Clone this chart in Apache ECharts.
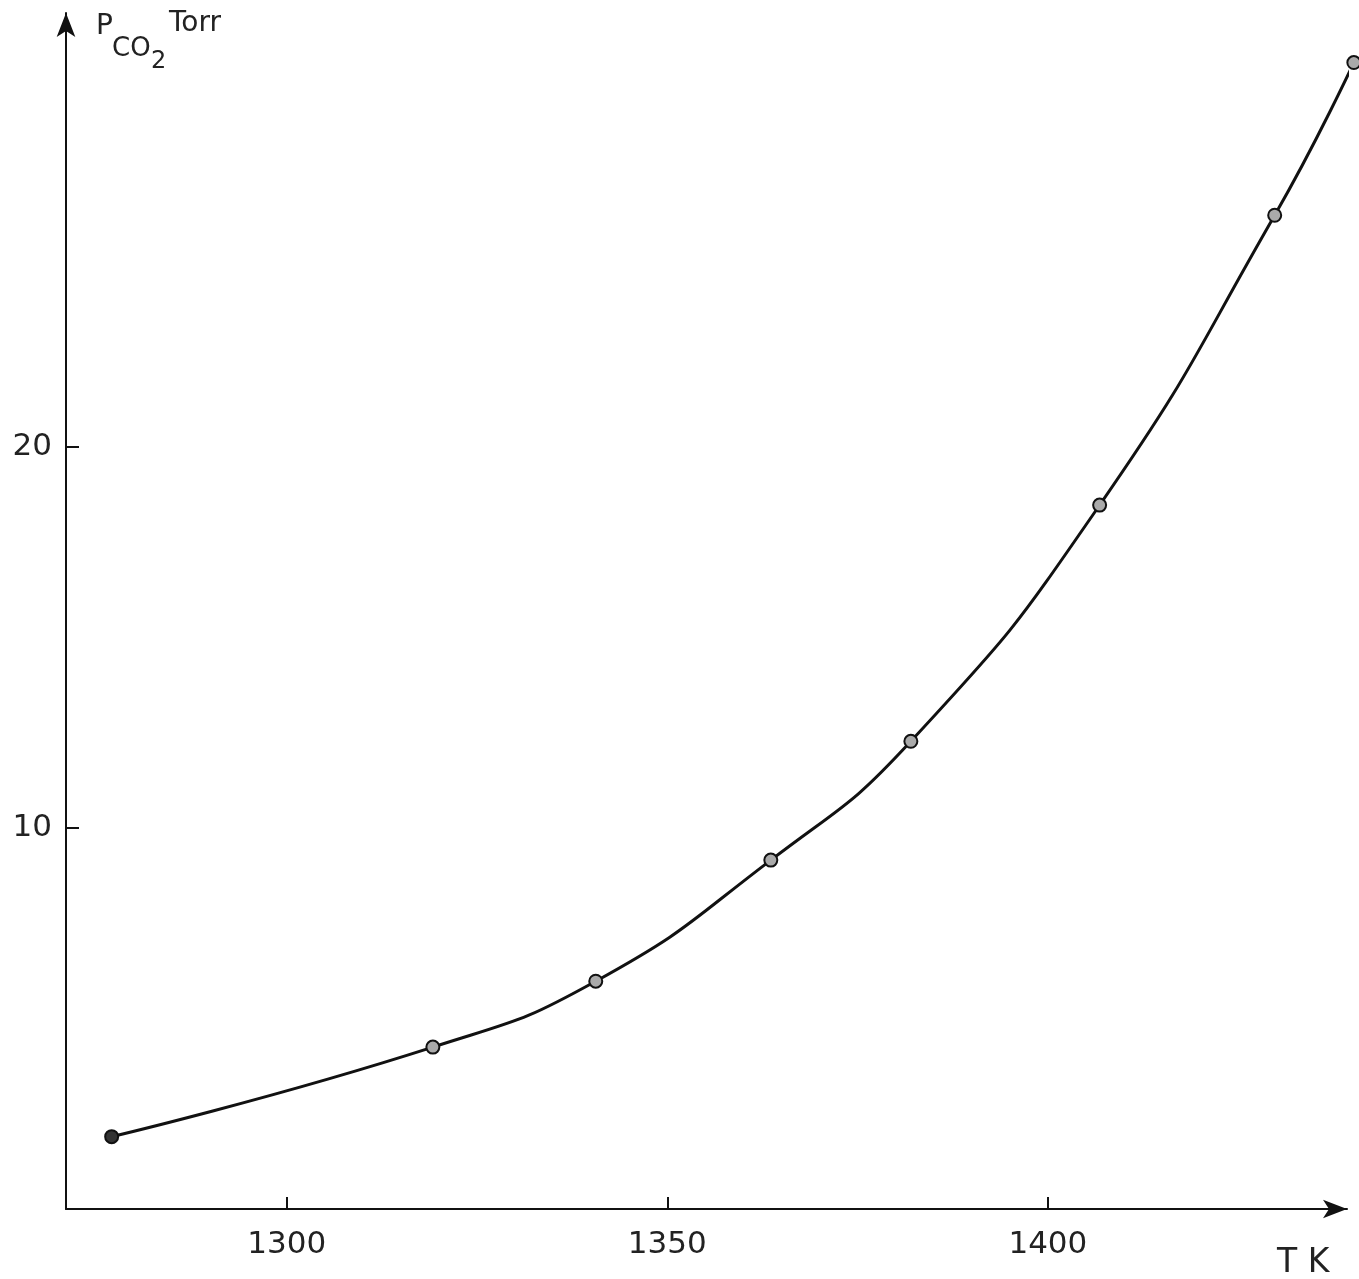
<!DOCTYPE html>
<html>
<head>
<meta charset="utf-8">
<script src="https://cdn.jsdelivr.net/npm/echarts@6/dist/echarts.min.js"></script>
<style>
  html, body { margin: 0; padding: 0; background: #fff; }
  #chart { width: 1359px; height: 1279px; }
</style>
</head>
<body>
<div id="chart"></div>
<script>
// temperatures, K
const temps = [1277.0, 1319.2, 1340.6, 1363.6, 1382.0, 1406.8, 1429.8, 1440.2];
// CO2 pressure, Torr
const pressures = [1.90, 4.25, 5.98, 9.16, 12.28, 18.48, 26.09, 30.1];
const xTicks = [1300, 1350, 1400];
const yTicks = [10, 20];

const font = 'DejaVu Sans';

let chart = echarts.init(document.getElementById('chart'));

let points = temps.map((t, i) => {
  let p = { value: [t, pressures[i]] };
  if (i === 0) p.itemStyle = { color: '#333' }; // первая точка залита темнее
  return p;
});

// подпись с индексом, кусками
function txt (s, x, y, size) {
  return {
    type: 'text', left: x, top: y,
    style: { text: s, fontFamily: font, fontSize: size, fill: '#222' }
  }
}

let option = {
  animation: false,
  backgroundColor: '#fff',
  grid: { left: 66, right: 12, top: 13, bottom: 70 },
  xAxis: {
    type: 'value',
    min: 1271,
    max: 1439.3,
    axisLine: {
      lineStyle: { color: '#111', width: 2 },
      symbol: ['none', 'arrow'],
      symbolSize: [14, 24]
    },
    axisTick: {
      inside: true, length: 12, customValues: xTicks,
      lineStyle: { color: '#111', width: 2 }
    },
    axisLabel: {
      customValues: xTicks,
      formatter: v => String(v),
      margin: 20,
      fontFamily: font, fontSize: 31, color: '#222'
    },
    splitLine: { show: false }
  },
  yAxis: {
    type: 'value',
    min: 0,
    max: 31.4,
    axisLine: {
      lineStyle: { color: '#111', width: 2 },
      symbol: ['none', 'arrow'],
      symbolSize: [14, 24]
    },
    axisTick: {
      inside: true, length: 13, customValues: yTicks,
      lineStyle: { color: '#111', width: 2 }
    },
    axisLabel: {
      customValues: yTicks,
      formatter: v => String(v),
      margin: 14,
      fontFamily: font, fontSize: 31, color: '#222'
    },
    splitLine: { show: false }
  },
  graphic: [
    txt('P', 96, 13, 28),
    txt('CO', 112, 36, 26),
    txt('2', 151, 50, 24),
    txt('Torr', 169, 10, 28),
    txt('T K', 1277, 1247, 33)
  ],
  series: [{
    type: 'line',
    data: points,
    smooth: 0.5,
    clip: false,
    symbol: 'circle',
    symbolSize: 13,
    lineStyle: { color: '#111', width: 3 },
    itemStyle: { color: '#aaa', borderColor: '#111', borderWidth: 2 }
  }]
};

chart.setOption(option);
</script>
</body>
</html>
